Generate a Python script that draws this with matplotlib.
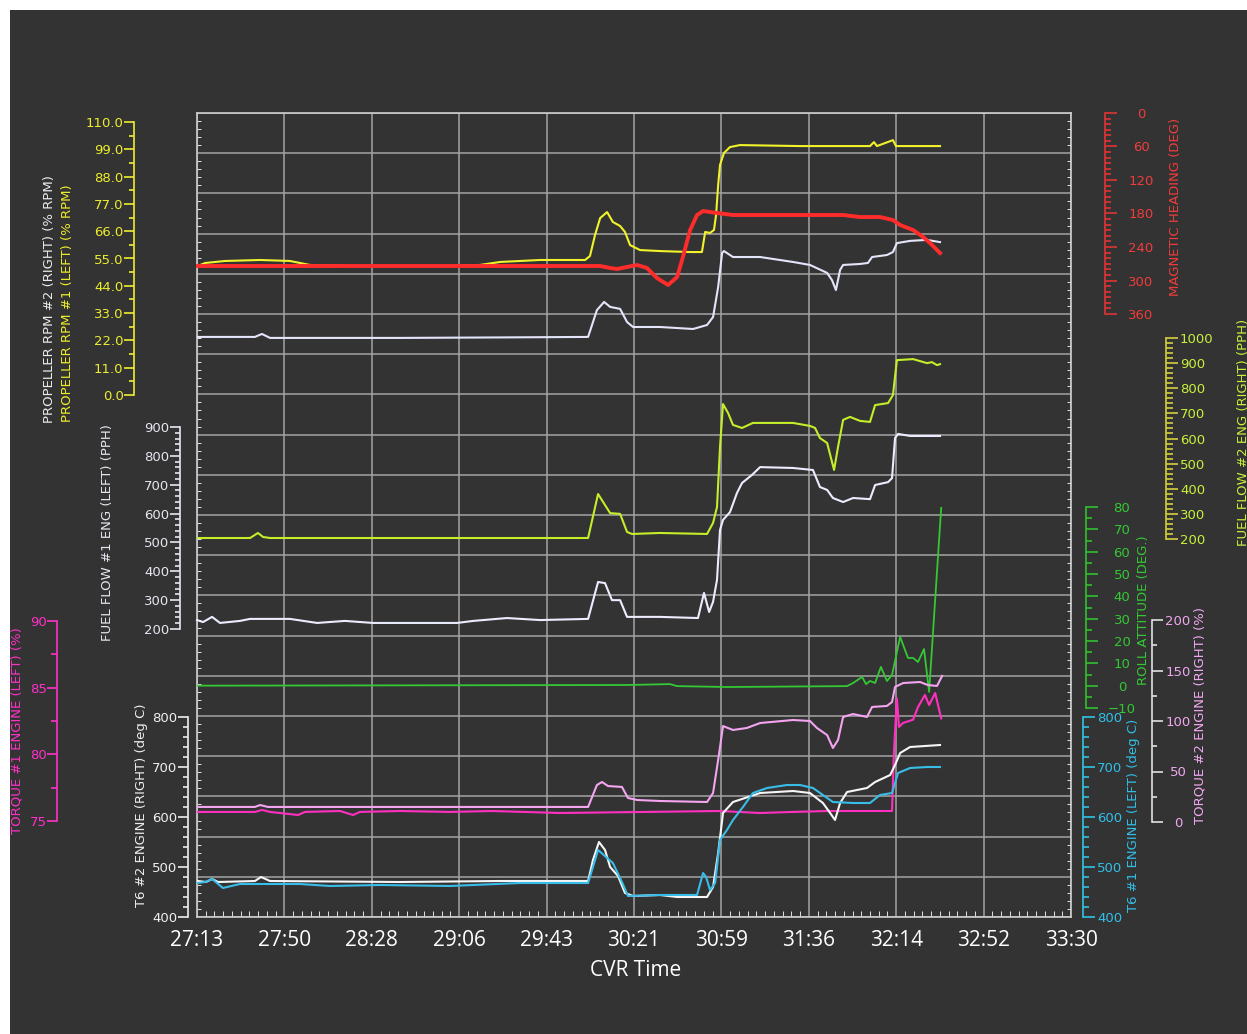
import matplotlib
matplotlib.use("Agg")
import matplotlib.pyplot as plt
from matplotlib.ticker import MultipleLocator, AutoMinorLocator, FormatStrFormatter
from matplotlib.patches import Rectangle

# ---- data (CVR time in seconds, values in each scale's units) ----
tick_labels = ["27:13", "27:50", "28:28", "29:06", "29:43", "30:21",
               "30:59", "31:36", "32:14", "32:52", "33:30"]
T_MIN, T_MAX = 1633, 2010

prop1_t = [1633.4, 1636.5, 1640.8, 1645.1, 1660.2, 1673.1, 1681.7, 1699.0, 1742.1, 1755.1,
           1763.7, 1781.0, 1800.4, 1802.5, 1804.7, 1806.9, 1809.9, 1812.4, 1815.5, 1817.6,
           1819.8, 1824.1, 1832.7, 1845.7, 1850.8, 1852.2, 1854.3, 1856.0, 1856.9, 1857.8,
           1858.6, 1860.3, 1862.9, 1867.2, 1893.1, 1923.3, 1925.0, 1926.3, 1933.2, 1934.5, 1953.5]
prop1_v = [52.0, 53.2, 53.6, 54.0, 54.4, 54.0, 52.4, 52.0, 52.0, 52.4,
           53.6, 54.4, 54.4, 56.0, 64.5, 71.3, 73.7, 69.7, 68.1, 65.7,
           60.4, 58.4, 58.0, 57.6, 57.6, 65.7, 65.3, 66.5, 72.5, 84.6,
           92.7, 97.5, 99.9, 100.7, 100.3, 100.3, 101.9, 100.3, 102.7, 100.3, 100.3]

prop2_t = [1633.4, 1658.0, 1661.0, 1664.5, 1720.6, 1763.7, 1801.7, 1805.5, 1808.6, 1811.2,
           1815.5, 1818.5, 1821.1, 1832.7, 1847.0, 1853.0, 1855.6, 1857.8, 1859.5, 1860.3,
           1864.2, 1875.9, 1890.1, 1897.4, 1904.8, 1906.9, 1908.6, 1910.4, 1911.7, 1919.0,
           1922.4, 1924.2, 1930.6, 1933.2, 1934.9, 1940.6, 1947.9, 1953.5]
prop2_v = [23.4, 23.4, 24.6, 23.0, 23.0, 23.2, 23.4, 34.2, 37.5, 35.5,
           34.7, 29.4, 27.4, 27.4, 26.6, 28.2, 31.4, 43.5, 57.2, 58.0,
           55.6, 55.6, 53.6, 52.4, 49.2, 46.3, 42.3, 50.4, 52.4, 52.8,
           53.2, 55.6, 56.4, 57.6, 61.2, 62.1, 62.5, 61.6]

hdg_t = [1633.4, 1806.9, 1811.2, 1814.2, 1822.8, 1827.1, 1831.4, 1836.2, 1840.1, 1842.6,
         1845.7, 1848.7, 1851.3, 1857.3, 1864.2, 1890.1, 1911.7, 1919.0, 1927.6, 1933.2,
         1936.3, 1941.9, 1946.2, 1949.2, 1953.5]
hdg_v = [274, 274, 277.6, 279.4, 272.2, 277.6, 295.5, 308.1, 293.7, 257.9,
         209.6, 182.7, 175.5, 179.1, 182.7, 182.7, 182.7, 186.3, 186.3, 191.7,
         200.6, 209.6, 222.1, 232.8, 250.8]

ff2_t = [1633.4, 1655.9, 1659.3, 1661.5, 1664.5, 1801.7, 1806.0, 1811.2, 1815.5, 1818.5,
         1820.6, 1832.7, 1853.0, 1855.6, 1857.3, 1858.6, 1859.9, 1862.1, 1864.2, 1868.1,
         1872.8, 1890.1, 1897.4, 1899.6, 1901.7, 1904.8, 1907.8, 1909.5, 1911.7, 1914.7,
         1919.0, 1923.3, 1925.5, 1931.1, 1933.2, 1934.9, 1941.9, 1947.9, 1950.0, 1952.2, 1953.5]
ff2_v = [204, 204, 224, 208, 204, 204, 379, 303, 300, 228,
         220, 224, 220, 264, 327, 566, 737, 701, 654, 642,
         662, 662, 650, 642, 602, 582, 475, 566, 674, 686,
         670, 666, 733, 741, 773, 912, 916, 900, 904, 892, 896]

ff1_t = [1633.0, 1635.6, 1639.5, 1642.9, 1651.5, 1655.9, 1673.1, 1684.8, 1696.8, 1708.9,
         1745.2, 1752.1, 1766.7, 1781.0, 1801.7, 1806.0, 1809.0, 1812.0, 1815.5, 1818.5,
         1832.7, 1849.1, 1851.7, 1853.9, 1855.6, 1857.3, 1858.6, 1859.9, 1862.9, 1865.9,
         1868.1, 1872.4, 1875.9, 1890.1, 1898.7, 1901.7, 1904.8, 1907.3, 1911.7, 1916.0,
         1923.3, 1925.5, 1931.1, 1932.8, 1934.1, 1935.4, 1940.6, 1953.5]
ff1_v = [231, 224, 242, 221, 228, 235, 235, 221, 228, 221,
         221, 228, 238, 231, 235, 363, 359, 300, 300, 242,
         242, 238, 325, 259, 294, 370, 543, 578, 605, 671,
         706, 734, 761, 758, 751, 692, 682, 654, 640, 654,
         650, 699, 709, 723, 862, 876, 869, 869]

roll_t = [1633.4, 1818.5, 1837.0, 1840.1, 1861.6, 1913.4, 1916.0, 1919.9, 1921.6, 1923.3,
          1925.5, 1928.0, 1930.6, 1932.8, 1936.3, 1939.7, 1941.9, 1944.0, 1946.6, 1948.8, 1954.0]
roll_v = [0.0, 0.3, 0.7, -0.2, -0.6, -0.2, 1.2, 3.9, 0.7, 2.1,
          1.2, 8.4, 2.1, 4.8, 21.8, 12.4, 12.4, 10.6, 16.4, -2.8, 79.6]

trq2_t = [1633.4, 1658.0, 1660.2, 1663.6, 1801.7, 1805.5, 1807.7, 1810.3, 1816.3, 1818.9,
          1822.8, 1832.7, 1853.0, 1855.6, 1857.8, 1859.9, 1864.2, 1870.2, 1875.9, 1890.1,
          1897.4, 1900.4, 1904.8, 1907.3, 1909.5, 1911.7, 1916.0, 1922.0, 1924.2, 1930.6,
          1932.8, 1934.1, 1937.6, 1944.9, 1948.3, 1952.2, 1954.4]
trq2_v = [14.9, 14.9, 16.8, 14.9, 14.9, 36.6, 39.6, 35.6, 34.7, 23.8,
          21.8, 20.8, 19.8, 28.7, 61.4, 95.0, 91.1, 93.1, 98.0, 101.0,
          100.0, 93.1, 86.1, 73.3, 81.2, 104.0, 106.9, 104.0, 113.9, 114.9,
          118.8, 133.7, 137.6, 138.6, 135.6, 134.7, 144.6]

trq1_t = [1633.4, 1658.0, 1661.0, 1664.5, 1676.6, 1679.6, 1694.7, 1700.3, 1703.3, 1720.6,
          1742.1, 1760.3, 1789.6, 1858.6, 1875.9, 1890.1, 1904.8, 1932.8, 1933.6, 1934.9,
          1935.8, 1937.5, 1941.9, 1944.0, 1947.0, 1948.8, 1951.4, 1954.0]
trq1_v = [75.68, 75.68, 75.83, 75.68, 75.45, 75.68, 75.75, 75.45, 75.68, 75.75,
          75.68, 75.75, 75.6, 75.75, 75.6, 75.68, 75.75, 75.75, 80.1, 84.2,
          82.05, 82.35, 82.6, 83.55, 84.45, 83.7, 84.6, 82.7]

t6r_t = [1633.4, 1636.9, 1639.5, 1642.1, 1658.0, 1660.6, 1664.5, 1720.6, 1763.7, 1801.7,
         1803.8, 1806.4, 1809.0, 1811.2, 1814.6, 1817.6, 1821.1, 1832.7, 1840.1, 1853.0,
         1855.6, 1857.8, 1859.9, 1864.2, 1875.9, 1890.1, 1897.4, 1903.0, 1906.1, 1908.2,
         1910.4, 1913.4, 1922.0, 1925.5, 1932.0, 1934.1, 1936.3, 1940.6, 1953.5]
t6r_v = [472, 470, 476, 470, 472, 480, 472, 470, 472, 472,
         514, 550, 534, 500, 482, 448, 442, 444, 440, 440,
         460, 528, 608, 630, 648, 652, 648, 628, 608, 594,
         628, 650, 658, 670, 684, 704, 728, 740, 744]

t6l_t = [1633.4, 1636.5, 1639.5, 1644.2, 1651.5, 1677.4, 1690.4, 1712.0, 1742.1, 1772.3,
         1801.7, 1806.0, 1812.4, 1816.3, 1818.9, 1832.7, 1848.7, 1851.3, 1852.6, 1854.3,
         1856.5, 1858.6, 1861.6, 1864.2, 1868.5, 1872.8, 1878.9, 1887.5, 1893.1, 1898.7,
         1903.0, 1907.3, 1916.0, 1923.3, 1927.6, 1932.8, 1935.4, 1940.6, 1947.9, 1953.5]
t6l_v = [468, 470, 476, 458, 466, 466, 462, 464, 462, 468,
         468, 534, 508, 470, 442, 444, 444, 488, 480, 454,
         468, 554, 574, 594, 620, 648, 658, 664, 664, 658,
         644, 630, 628, 628, 644, 648, 688, 698, 700, 700]

# ---- layout (pixels of the 1247x1034 picture) ----
W, H = 1247, 1034
X0, X1 = 197, 1071
Y0, Y1 = 113, 917
BG = '#333333'
PT = 100 / 72.0  # px per point


def fx(px):
    return px / W


def fy(py):
    return 1 - py / H


fig = plt.figure(figsize=(W / 100, H / 100), dpi=100, facecolor='white')
fig.add_artist(Rectangle((fx(10), 0), 1, fy(10), transform=fig.transFigure,
                         facecolor=BG, edgecolor='none', zorder=-5))

ax = fig.add_axes([fx(X0), fy(Y1), fx(X1) - fx(X0), fy(Y0) - fy(Y1)])
ax.set_facecolor(BG)
ax.set_xlim(T_MIN, T_MAX)
ax.set_ylim(0, 20)
step = (T_MAX - T_MIN) / 10
ax.set_xticks([T_MIN + step * i for i in range(11)])
ax.set_xticklabels(tick_labels, fontfamily='Open Sans', fontsize=15, color='white')
ax.set_yticks(range(21))
ax.grid(True, color='#a4a4a4', lw=1.1)
ax.xaxis.set_minor_locator(AutoMinorLocator(10))
ax.yaxis.set_minor_locator(AutoMinorLocator(5))
ax.tick_params(axis='x', which='major', length=0, pad=9)
ax.tick_params(axis='x', which='minor', length=4, direction='in', color='white')
ax.tick_params(axis='y', which='both', left=True, right=True, labelleft=False,
               direction='in', color='white')
ax.tick_params(axis='y', which='major', length=0)
ax.tick_params(axis='y', which='minor', length=3)
for s in ax.spines.values():
    s.set_color('#cfcfcf')
    s.set_linewidth(1.2)


def scale(ytop, ybot, lim, major, minor, side, spine_x, spine_c, lab_c,
          maj_len, min_len, pad, ha=None, fmt=None):
    a = fig.add_axes([fx(X0), fy(ybot), fx(X1) - fx(X0), fy(ytop) - fy(ybot)])
    a.set_xlim(T_MIN, T_MAX)
    a.set_ylim(*lim)
    a.patch.set_visible(False)
    a.xaxis.set_visible(False)
    for k, s in a.spines.items():
        s.set_visible(k == side)
    a.spines[side].set_position(('axes', (spine_x - X0) / (X1 - X0)))
    a.spines[side].set_color(spine_c)
    a.spines[side].set_linewidth(1.2)
    a.yaxis.set_ticks_position(side)
    a.yaxis.set_major_locator(MultipleLocator(major))
    a.yaxis.set_minor_locator(MultipleLocator(minor))
    if fmt:
        a.yaxis.set_major_formatter(FormatStrFormatter(fmt))
    a.tick_params(axis='y', which='both', direction='out', color=spine_c,
                  labelcolor=lab_c, labelsize=9.5, width=1.2)
    a.tick_params(axis='y', which='major', length=maj_len / PT, pad=pad / PT)
    a.tick_params(axis='y', which='minor', length=min_len / PT)
    if ha:
        for t in a.get_yticklabels():
            t.set_ha(ha)
    return a


yellow = '#eeee2e'
a_prop = scale(122, 395, (0, 110), 11, 5.5, 'left', 134, yellow, yellow, 10, 5, 0.5, fmt='%.1f')
a_hdg = scale(113, 314, (360, 0), 60, 10, 'right', 1105, '#e03434', '#f03c3c', 12, 6, 24, ha='center')
a_ff2 = scale(338, 539, (200, 1000), 100, 20, 'right', 1166, '#d4cf3c', '#c8f03c', 12, 7, 2)
a_ff1 = scale(427, 629, (200, 900), 100, 20, 'left', 180, '#e6e6f0', '#e6e6f0', 10, 5, 0.5)
a_roll = scale(507, 708, (-10, 80), 10, 5, 'right', 1086, '#30c030', '#34c834', 12, 6, 24, ha='center')
a_trq2 = scale(620, 822, (0, 200), 50, 25, 'right', 1152, '#e0e0e0', '#f0a8f0', 11, 5, 15, ha='center')
a_trq1 = scale(621, 821, (75, 90), 5, 2.5, 'left', 57, '#ff30c8', '#ff30c8', 10, 6, 0.5)
a_t6r = scale(717, 917, (400, 800), 100, 20, 'left', 188, '#eeeeee', '#eeeeee', 10, 5, 0.5)
a_t6l = scale(717, 917, (400, 800), 100, 20, 'right', 1083, '#30c4e4', '#30c0e8', 12, 6, 2)

lw = 1.5
a_prop.plot(prop1_t, prop1_v, color='#f2f22a', lw=lw, clip_on=False)
a_prop.plot(prop2_t, prop2_v, color='#e4e4fa', lw=lw, clip_on=False)
a_hdg.plot(hdg_t, hdg_v, color='#ff2c2c', lw=2.8, clip_on=False)
a_ff2.plot(ff2_t, ff2_v, color='#c4ee2a', lw=lw, clip_on=False)
a_ff1.plot(ff1_t, ff1_v, color='#ececff', lw=lw, clip_on=False)
a_roll.plot(roll_t, roll_v, color='#34c834', lw=1.3, clip_on=False)
a_trq2.plot(trq2_t, trq2_v, color='#f4a4f0', lw=lw, clip_on=False)
a_trq1.plot(trq1_t, trq1_v, color='#ff30c0', lw=lw, clip_on=False)
a_t6l.plot(t6l_t, t6l_v, color='#38bde8', lw=lw, clip_on=False)
a_t6r.plot(t6r_t, t6r_v, color='#f6f6f6', lw=lw, clip_on=False)

# axis titles
lab = dict(rotation=90, fontsize=9.5, ha='center')
fig.text(fx(50), fy(423), 'PROPELLER RPM #2 (RIGHT) (% RPM)', color='#ececec', va='bottom', **lab)
fig.text(fx(68), fy(422), 'PROPELLER RPM #1 (LEFT) (% RPM)', color=yellow, va='bottom', **lab)
fig.text(fx(1175), fy(207), 'MAGNETIC HEADING (DEG)', color='#f03c3c', va='center', **lab)
fig.text(fx(1243), fy(432), 'FUEL FLOW #2 ENG (RIGHT) (PPH)', color='#c8f03c', va='center', **lab)
fig.text(fx(107), fy(533), 'FUEL FLOW #1 ENG (LEFT) (PPH)', color='#e6e6f0', va='center', **lab)
fig.text(fx(1143), fy(610), 'ROLL ATTITUDE (DEG.)', color='#34c834', va='center', **lab)
fig.text(fx(1200), fy(716), 'TORQUE #2 ENGINE (RIGHT) (%)', color='#f0a8f0', va='center', **lab)
fig.text(fx(1133), fy(815), 'T6 #1 ENGINE (LEFT) (deg C)', color='#30c0e8', va='center', **lab)
fig.text(fx(17), fy(731), 'TORQUE #1 ENGINE (LEFT) (%)', color='#ff30c8', va='center', **lab)
fig.text(fx(142), fy(805), 'T6 #2 ENGINE (RIGHT) (deg C)', color='#eeeeee', va='center', **lab)
fig.text(fx(636), fy(971), 'CVR Time', color='white', fontsize=15, fontfamily='Open Sans',
         ha='center', va='center')

fig.savefig('out.png', dpi=100, facecolor=fig.get_facecolor())
